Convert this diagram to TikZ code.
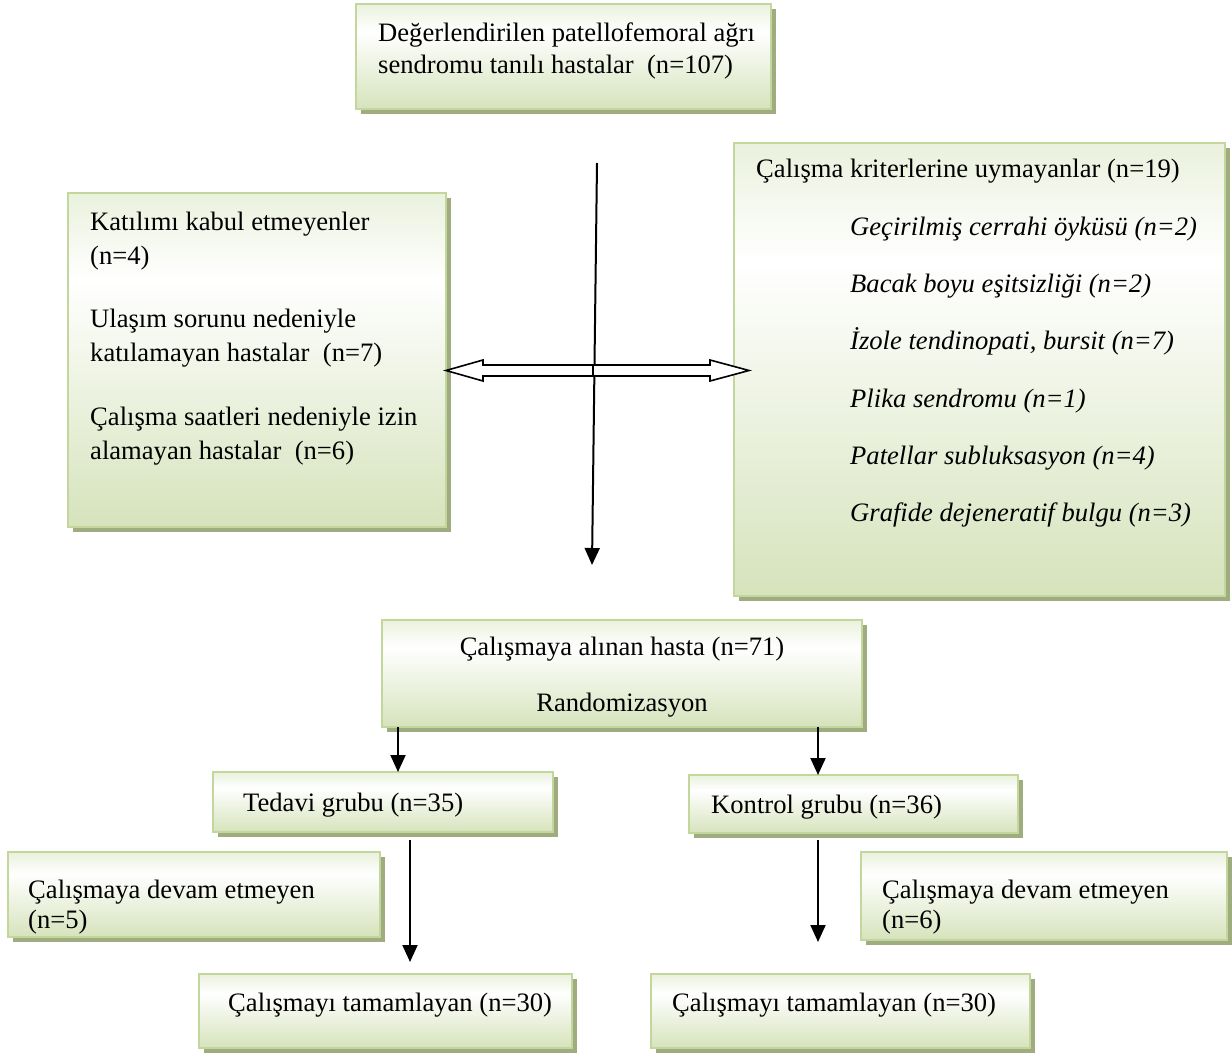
\documentclass[tikz,border=0pt]{standalone}
\usepackage{fontspec}
\setmainfont{Liberation Serif}
\usetikzlibrary{arrows.meta,shadows,calc}
\definecolor{gbot}{RGB}{214,227,188}
\definecolor{gtop}{RGB}{234,241,221}
\definecolor{bordc}{RGB}{195,214,155}
\definecolor{shadc}{RGB}{158,172,127}
\pgfdeclareverticalshading{boxshade}{100bp}{color(0bp)=(gbot); color(25bp)=(gbot); color(62bp)=(white); color(75bp)=(gtop); color(100bp)=(gtop)}
\begin{document}
\begin{tikzpicture}[x=1pt,y=-1pt,
 box/.style={draw=bordc,line width=2pt,shade,shading=boxshade,
   drop shadow={shadow xshift=5pt,shadow yshift=-5pt,fill=shadc,opacity=1,draw=none},
   inner sep=0pt,outer sep=0pt,anchor=north west},
 txt/.style={inner sep=0pt,anchor=base west,font=\fontsize{26.6}{33}\selectfont},
 itx/.style={txt,font=\fontsize{26.6}{33}\selectfont\itshape},
 ctx/.style={txt,anchor=base},
 arr/.style={line width=2pt,-{Triangle[width=15pt,length=17pt]}},
 hollow/.style={line width=1.6pt,fill=white,line join=miter}]
\useasboundingbox (0,0) rectangle (1232,1054);

% boxes
\node[box,minimum width=415pt,minimum height=105pt] (top) at (356,4) {};
\node[box,minimum width=491pt,minimum height=453pt] (right) at (734,143) {};
\node[box,minimum width=378pt,minimum height=334pt] (left) at (68,193) {};
\node[box,minimum width=480pt,minimum height=107pt] (mid) at (382,620) {};
\node[box,minimum width=340pt,minimum height=60pt] (ted) at (213,772) {};
\node[box,minimum width=329pt,minimum height=58pt] (kon) at (689,775) {};
\node[box,minimum width=372pt,minimum height=85pt] (dl) at (8,852) {};
\node[box,minimum width=366pt,minimum height=88pt] (dr) at (861,852) {};
\node[box,minimum width=373pt,minimum height=74pt] (tl) at (199,974) {};
\node[box,minimum width=379pt,minimum height=74pt] (tr) at (651,974) {};

% texts
\node[txt] (t1) at (378,42) {Değerlendirilen patellofemoral ağrı};
\node[txt] (t2) at (378,74) {sendromu tanılı hastalar~ (n=107)};

\node[txt] (l1) at (90,230) {Katılımı kabul etmeyenler};
\node[txt] (l2) at (90,264) {(n=4)};
\node[txt] (l3) at (90,327) {Ulaşım sorunu nedeniyle};
\node[txt] (l4) at (90,361) {katılamayan hastalar~ (n=7)};
\node[txt] (l5) at (90,425) {Çalışma saatleri nedeniyle izin};
\node[txt] (l6) at (90,459) {alamayan hastalar~ (n=6)};

\node[txt] (r0) at (756,178) {Çalışma kriterlerine uymayanlar (n=19)};
\node[itx] (r1) at (850,235) {Geçirilmiş cerrahi öyküsü (n=2)};
\node[itx] (r2) at (850,292) {Bacak boyu eşitsizliği (n=2)};
\node[itx] (r3) at (850,349) {İzole tendinopati, bursit (n=7)};
\node[itx] (r4) at (850,407) {Plika sendromu (n=1)};
\node[itx] (r5) at (850,464) {Patellar subluksasyon (n=4)};
\node[itx] (r6) at (850,521) {Grafide dejeneratif bulgu (n=3)};

\node[ctx] (m1) at (622,655) {Çalışmaya alınan hasta (n=71)};
\node[ctx] (m2) at (622,711) {Randomizasyon};

\node[txt] (tg) at (243,811) {Tedavi grubu (n=35)};
\node[txt] (kg) at (711,813) {Kontrol grubu (n=36)};

\node[txt] (d1) at (28,898) {Çalışmaya devam etmeyen};
\node[txt] (d2) at (28,928) {(n=5)};
\node[txt] (d3) at (882,898) {Çalışmaya devam etmeyen};
\node[txt] (d4) at (882,928) {(n=6)};

\node[txt] (c1) at (228,1011) {Çalışmayı tamamlayan (n=30)};
\node[txt] (c2) at (672,1011) {Çalışmayı tamamlayan (n=30)};

% main vertical arrow
\coordinate (vs) at (597,163);
\coordinate (ve) at (592,565);
\draw[arr] (vs) -- (ve);

% hollow double arrow
\coordinate (hc) at (593,370.5);
\coordinate (lt) at (left.east |- hc);
\coordinate (rt) at ($(right.west |- hc)+(15,0)$);
\draw[hollow] ($(hc)+(0,-5.5)$) -- ($(lt)+(37,-5.5)$) -- ($(lt)+(37,-10.5)$) -- (lt)
  -- ($(lt)+(37,10.5)$) -- ($(lt)+(37,5.5)$) -- ($(hc)+(0,5.5)$) -- cycle;
\draw[hollow] ($(hc)+(0,-5.5)$) -- ($(rt)+(-39,-5.5)$) -- ($(rt)+(-39,-10.5)$) -- (rt)
  -- ($(rt)+(-39,10.5)$) -- ($(rt)+(-39,5.5)$) -- ($(hc)+(0,5.5)$) -- cycle;

% small arrows
\coordinate (a1) at (398,0);
\coordinate (a2) at (818,0);
\coordinate (a3) at (410,0);
\draw[arr] (mid.south -| a1) -- (ted.north -| a1);
\draw[arr] (mid.south -| a2) -- (kon.north -| a2);
\coordinate (e3) at (410,962);
\coordinate (e4) at (818,942);
\draw[arr] ($(ted.south -| a3)+(0,8)$) -- (e3);
\draw[arr] ($(kon.south -| a2)+(0,7)$) -- (e4);
\end{tikzpicture}
\end{document}
